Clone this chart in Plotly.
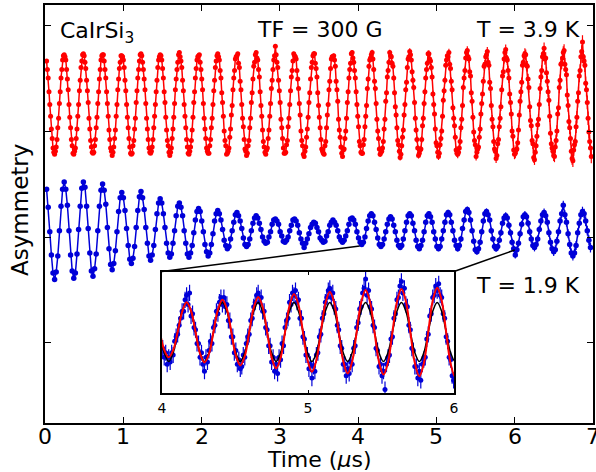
import plotly.graph_objects as go

# ---------------- data (asymmetry in units of 1e-3, vertically offset for display) -------------
PERIOD_US = 0.2452            # muon precession period read from the peaks
RED_DT = PERIOD_US / 24       # bin width of the 3.9 K data
BLUE_DT = PERIOD_US / 12      # bin width of the 1.9 K data
RED_FIRST_BIN = 2
BLUE_FIRST_BIN = 1
INSET_FIRST_BIN = 392         # inset uses the fine binning
FIT_DT = PERIOD_US / 8
FIT_FIRST_BIN = 128

X_TICKS = [0, 1, 2, 3, 4, 5, 6, 7]
Y_TICKS = [-200, -100, 0, 100]
INSET_X_TICKS = [4, 5, 6]

# T = 3.9 K (red), one row per precession cycle
RED_CYCLES = [
    [66, 58, 50, 37, 25, 14, 2, -7, -16, -20, -22, -19, -15, -8, 3, 12, 26, 37, 50, 58, 67, 71],
    [72, 70, 67, 58, 49, 39, 25, 13, 3, -8, -14, -21, -22, -19, -16, -7, 2, 14, 25, 38, 48, 60, 66, 72],
    [73, 71, 65, 59, 48, 38, 27, 12, 2, -9, -15, -20, -21, -20, -14, -8, 3, 13, 26, 37, 49, 58, 67, 71],
    [72, 72, 66, 58, 50, 37, 26, 14, 1, -8, -16, -19, -23, -20, -15, -7, 1, 14, 25, 39, 49, 59, 65, 71],
    [71, 70, 67, 60, 48, 38, 25, 13, 3, -7, -15, -21, -22, -21, -14, -9, 2, 12, 27, 38, 50, 58, 66, 72],
    [73, 71, 65, 58, 49, 39, 26, 12, 2, -8, -16, -20, -21, -19, -15, -8, 3, 14, 25, 37, 48, 60, 67, 70],
    [72, 71, 67, 59, 50, 37, 27, 13, 1, -9, -14, -20, -23, -20, -16, -7, 2, 13, 26, 39, 49, 58, 65, 72],
    [74, 70, 66, 60, 48, 38, 25, 14, 3, -8, -15, -21, -22, -19, -15, -9, 1, 13, 27, 37, 50, 59, 67, 70],
    [71, 72, 65, 58, 49, 39, 26, 12, 2, -7, -16, -19, -21, -21, -14, -8, 3, 12, 25, 38, 48, 60, 66, 71],
    [73, 70, 67, 57, 50, 36, 27, 14, 0, -9, -14, -22, -21, -19, -16, -6, 2, 15, 24, 39, 50, 57, 68, 70],
    [71, 73, 64, 60, 47, 39, 25, 12, 4, -8, -17, -19, -23, -21, -14, -9, 3, 12, 27, 36, 49, 61, 65, 72],
    [74, 69, 67, 58, 51, 37, 24, 14, 1, -10, -15, -20, -22, -18, -16, -7, 1, 14, 26, 40, 48, 58, 67, 71],
    [80, 72, 65, 60, 48, 38, 27, 11, 3, -7, -16, -21, -21, -20, -13, -9, 4, 12, 25, 38, 51, 57, 66, 73],
    [71, 70, 68, 57, 49, 40, 26, 15, 0, -9, -14, -22, -24, -19, -15, -6, 2, 13, 27, 36, 49, 60, 65, 71],
    [73, 73, 64, 59, 51, 36, 24, 13, 3, -8, -17, -19, -21, -22, -14, -10, 3, 15, 25, 39, 47, 59, 68, 70],
    [70, 71, 67, 61, 47, 39, 28, 11, 1, -6, -15, -21, -24, -18, -17, -7, 0, 12, 27, 37, 50, 58, 64, 73],
    [74, 69, 65, 57, 50, 37, 25, 14, 4, -10, -14, -20, -21, -21, -13, -8, 4, 14, 24, 40, 49, 61, 67, 69],
    [72, 74, 68, 58, 47, 40, 26, 11, 0, -7, -17, -22, -20, -19, -16, -10, 2, 11, 28, 36, 51, 57, 65, 74],
    [71, 70, 64, 61, 50, 36, 23, 15, 3, -9, -13, -19, -25, -22, -14, -6, 1, 15, 25, 39, 46, 60, 68, 70],
    [75, 72, 67, 56, 48, 41, 27, 12, 1, -8, -16, -23, -21, -18, -17, -8, 5, 12, 26, 37, 50, 58, 64, 73],
    [73, 68, 66, 60, 51, 35, 25, 16, 2, -11, -14, -20, -24, -21, -13, -7, 0, 14, 29, 38, 48, 62, 67, 71],
    [70, 74, 63, 59, 47, 39, 22, 12, 5, -6, -18, -21, -22, -20, -16, -10, 3, 11, 24, 41, 50, 57, 69, 74],
    [76, 70, 68, 56, 52, 36, 28, 13, -1, -9, -13, -24, -20, -17, -15, -6, 2, 16, 26, 35, 47, 61, 63, 70],
    [72, 75, 65, 62, 46, 40, 24, 11, 4, -10, -17, -19, -26, -23, -12, -8, 4, 12, 23, 39, 52, 56, 68, 74],
    [77, 69, 67, 57, 50, 35, 27, 16, 0, -5, -18, -22, -21, -18, -17, -11, 1, 15, 28, 37, 46, 62, 65, 71],
    [73, 72, 62, 61, 49, 41, 23, 10, 5, -9, -12, -25, -27, -20, -14, -5, 6, 11, 25, 40, 51, 57, 70, 73],
    [78, 68, 69, 55, 47, 37, 29, 14, -2, -12, -16, -19, -23, -24, -15, -9, 0, 16, 22, 41, 48, 63, 64, 69],
    [74, 76, 63, 58, 53, 34, 24, 9, 3, -7, -19, -26, -28, -18, -13, -10, 4, 13, 28, 36, 52, 57, 70, 75],
    [84, 70, 66, 62, 45, 39, 27, 12, -1, -10, -16, -24],
]
RED_ERR_PER_CYCLE = [0.8, 0.8, 0.9, 0.9, 1.0, 1.0, 1.1, 1.2, 1.3, 1.4, 1.5, 1.6, 1.7, 1.9, 2.0,
                     2.2, 2.4, 2.6, 2.8, 3.0, 3.3, 3.6, 3.9, 4.2, 4.6, 5.0, 5.4, 5.9, 6.4]

# T = 1.9 K (blue)
BLUE_CYCLES = [
    [-55, -72, -95, -117, -134, -140, -133, -118, -94, -71, -55],
    [-48, -55, -70, -94, -117, -132, -139, -134, -116, -93, -71, -54],
    [-48, -53, -71, -92, -115, -132, -137, -130, -116, -94, -71, -56],
    [-50, -56, -69, -91, -111, -126, -131, -125, -113, -95, -76, -63],
    [-58, -63, -75, -92, -108, -121, -125, -120, -109, -91, -75, -62],
    [-57, -63, -74, -91, -106, -118, -122, -117, -108, -93, -78, -68],
    [-64, -68, -78, -91, -106, -115, -119, -116, -106, -94, -80, -71],
    [-68, -72, -80, -94, -106, -116, -119, -115, -108, -96, -84, -76],
    [-73, -76, -85, -95, -107, -114, -118, -115, -107, -97, -85, -78],
    [-75, -78, -84, -93, -103, -108, -111, -109, -102, -94, -86, -79],
    [-77, -80, -85, -92, -101, -107, -109, -107, -102, -94, -87, -82],
    [-80, -82, -87, -93, -100, -104, -106, -105, -100, -95, -88, -84],
    [-83, -85, -88, -95, -99, -104, -105, -103, -100, -94, -89, -84],
    [-83, -85, -89, -96, -102, -106, -110, -106, -102, -97, -91, -88],
    [-86, -87, -91, -95, -101, -103, -105, -104, -99, -95, -89, -86],
    [-84, -86, -89, -94, -100, -103, -105, -103, -99, -94, -88, -83],
    [-82, -84, -88, -95, -101, -105, -107, -105, -100, -92, -85, -80],
    [-78, -80, -86, -93, -101, -107, -109, -107, -102, -95, -88, -83],
    [-81, -83, -89, -95, -103, -108, -110, -108, -102, -94, -86, -80],
    [-78, -80, -87, -94, -103, -109, -111, -108, -103, -95, -86, -80],
    [-78, -81, -86, -95, -102, -109, -111, -109, -102, -94, -86, -79],
    [-77, -79, -86, -94, -103, -108, -111, -108, -102, -92, -84, -76],
    [-74, -77, -84, -94, -104, -112, -114, -111, -105, -95, -85, -78],
    [-76, -79, -84, -94, -102, -109, -111, -109, -103, -96, -87, -82],
    [-80, -82, -89, -96, -105, -111, -117, -112, -106, -97, -88, -81],
    [-79, -81, -87, -95, -102, -108, -110, -107, -102, -93, -85, -79],
    [-77, -80, -86, -96, -105, -111, -114, -112, -104, -95, -85, -78],
    [-70, -79, -86, -97, -107, -115, -118, -115, -108, -96, -87, -79],
    [-76, -78, -85, -94, -103, -110],
]
BLUE_ERR_PER_CYCLE = [0.6, 0.6, 0.7, 0.7, 0.7, 0.8, 0.8, 0.9, 0.9, 1.0, 1.1, 1.2, 1.3, 1.4, 1.5,
                      1.6, 1.7, 1.9, 2.0, 2.2, 2.4, 2.6, 2.8, 3.0, 3.3, 3.6, 3.9, 4.2, 4.6]

# inset: 1.9 K data, 4-6 us, fine binning
INSET_CYCLES = [
    [-102, -106, -104, -109, -106, -108, -104, -105, -99, -97, -96, -92, -89, -86, -86, -81],
    [-79, -83, -78, -88, -87, -93, -94, -100, -100, -106, -104, -109, -112, -106, -108, -103, -99, -100, -93, -92, -86, -87, -82, -80],
    [-83, -80, -84, -83, -90, -90, -97, -97, -104, -103, -109, -107, -111, -110, -105, -106, -100, -97, -96, -90, -89, -84, -82, -79],
    [-78, -82, -80, -86, -86, -93, -94, -101, -101, -108, -106, -112, -109, -113, -106, -107, -100, -101, -93, -90, -89, -82, -83, -78],
    [-79, -77, -82, -81, -89, -89, -97, -98, -105, -105, -111, -109, -115, -110, -112, -105, -104, -97, -96, -89, -87, -82, -80, -77],
    [-76, -80, -78, -84, -85, -92, -94, -101, -102, -109, -109, -114, -111, -113, -108, -109, -102, -101, -93, -91, -85, -84, -78, -76],
    [-72, -79, -77, -84, -85, -92, -93, -102, -103, -110, -109, -114, -112, -120, -109, -106, -105, -98, -97, -89, -87, -81, -80, -75],
    [-73, -78, -76, -83, -84, -92, -94, -102, -103, -110, -110, -115, -112, -116, -109, -107, -106, -98, -96, -88, -87, -80, -79, -75],
    [-77, -74, -79, -80, -87, -89, -97, -99, -106, -107, -114, -116],
]
INSET_ERR = 3.5

# inset fits (one row per cycle, 8 samples per cycle)
FIT_ONE_FREQ = [
    [-82.2, -86.0, -95.0, -104.0, -107.8, -104.0, -95.0, -86.0],
    [-82.2, -86.0, -95.0, -104.0, -107.8, -104.0, -95.0, -86.0],
    [-82.2, -86.0, -95.0, -104.0, -107.8, -104.0, -95.0, -86.0],
    [-82.2, -86.0, -95.0, -104.0, -107.8, -104.0, -95.0, -86.0],
    [-82.2, -86.0, -95.0, -104.0, -107.8, -104.0, -95.0, -86.0],
    [-82.2, -86.0, -95.0, -104.0, -107.8, -104.0, -95.0, -86.0],
    [-82.2, -86.0, -95.0, -104.0, -107.8, -104.0, -95.0, -86.0],
    [-82.2, -86.0, -95.0, -104.0, -107.8, -104.0, -95.0, -86.0],
    [-82.2, -86.0, -95.0, -104.0, -107.8, -104.0, -95.0, -86.0],
    [-82.2],
]
FIT_TWO_FREQ = [
    [-84.5, -87.5, -95.0, -102.7, -106.0, -102.9, -95.0, -86.3],
    [-82.0, -85.8, -95.0, -104.3, -108.2, -104.5, -95.0, -85.3],
    [-81.0, -85.0, -95.0, -105.1, -109.5, -105.5, -95.0, -84.5],
    [-79.8, -84.1, -95.0, -106.0, -110.8, -106.3, -95.0, -83.6],
    [-78.5, -83.2, -95.0, -106.9, -112.2, -107.3, -95.0, -82.8],
    [-77.5, -82.5, -95.0, -107.6, -113.0, -107.8, -95.0, -82.2],
    [-76.7, -82.0, -95.0, -108.0, -113.5, -108.2, -95.0, -81.9],
    [-76.3, -81.6, -95.0, -108.4, -114.2, -108.7, -95.0, -81.4],
    [-75.7, -81.3, -95.0, -108.7, -114.5, -108.8, -95.0, -81.2],
    [-75.4],
]

# points on the 1.9 K curve that the inset connectors point at (time, asymmetry)
CONNECT_TARGETS = [(4.02, -108.5), (6.0, -112.3)]

# ---------------- build ----------------
def flatten(rows):
    out = []
    for r in rows:
        out.extend(r)
    return out

for r in RED_CYCLES[1:-1]:
    assert len(r) == 24, len(r)
for r in BLUE_CYCLES[1:-1]:
    assert len(r) == 12, len(r)
for r in INSET_CYCLES[1:-1]:
    assert len(r) == 24, len(r)

red_y = flatten(RED_CYCLES)
red_bins = [RED_FIRST_BIN + i for i in range(len(red_y))]
red_t = [b * RED_DT for b in red_bins]
red_e = [RED_ERR_PER_CYCLE[b // 24] for b in red_bins]

blue_y = flatten(BLUE_CYCLES)
blue_bins = [BLUE_FIRST_BIN + i for i in range(len(blue_y))]
blue_t = [b * BLUE_DT for b in blue_bins]
blue_e = [BLUE_ERR_PER_CYCLE[b // 12] for b in blue_bins]

inset_y = flatten(INSET_CYCLES)
inset_t = [(INSET_FIRST_BIN + i) * RED_DT for i in range(len(inset_y))]

fit1_y = flatten(FIT_ONE_FREQ)
fit2_y = flatten(FIT_TWO_FREQ)
fit_t = [(FIT_FIRST_BIN + i) * FIT_DT for i in range(len(fit1_y))]

RED = "#ff0000"
BLUE = "#0000d8"
FONT = "DejaVu Sans"

W, H = 596, 472
M_L, M_R, M_T, M_B = 45, 3, 5, 49
X_RANGE = [0, 7]
Y_RANGE = [-275.5, 118.9]
INSET_X_RANGE = [4, 6]
INSET_Y_RANGE = [-121.7, -68.7]
INSET_DOM_X = [0.2135, 0.7464]
INSET_DOM_Y = [0.0706, 0.3624]

fig = go.Figure()
fig.add_trace(go.Scatter(
    x=red_t, y=red_y, mode="lines+markers",
    line=dict(color=RED, width=1.5), marker=dict(color=RED, size=5),
    error_y=dict(type="data", array=red_e, color=RED, thickness=1.2, width=0),
    xaxis="x", yaxis="y"))
fig.add_trace(go.Scatter(
    x=blue_t, y=blue_y, mode="lines+markers",
    line=dict(color=BLUE, width=1.5), marker=dict(color=BLUE, size=5.5),
    error_y=dict(type="data", array=blue_e, color=BLUE, thickness=1.2, width=0),
    xaxis="x", yaxis="y"))

# inset
fig.add_trace(go.Scatter(
    x=inset_t, y=inset_y, mode="markers",
    marker=dict(color=BLUE, size=5),
    error_y=dict(type="constant", value=INSET_ERR, color=BLUE, thickness=1.2, width=0),
    xaxis="x2", yaxis="y2"))
fig.add_trace(go.Scatter(
    x=fit_t, y=fit1_y, mode="lines", line=dict(color="black", width=1.5, shape="spline"),
    xaxis="x2", yaxis="y2"))
fig.add_trace(go.Scatter(
    x=fit_t, y=fit2_y, mode="lines", line=dict(color=RED, width=2, shape="spline"),
    xaxis="x2", yaxis="y2"))

# connectors from inset top corners to the curve
def paper_to_data(px, py):
    return (X_RANGE[0] + px * (X_RANGE[1] - X_RANGE[0]),
            Y_RANGE[0] + py * (Y_RANGE[1] - Y_RANGE[0]))

corners = [paper_to_data(INSET_DOM_X[0], INSET_DOM_Y[1]),
           paper_to_data(INSET_DOM_X[1], INSET_DOM_Y[1])]
shapes = []
for (cx, cy), (tx, ty) in zip(corners, CONNECT_TARGETS):
    shapes.append(dict(type="line", xref="x", yref="y", x0=cx, y0=cy, x1=tx, y1=ty,
                       line=dict(color="black", width=1.5)))

axis_common = dict(showline=True, linecolor="black", linewidth=1.5, mirror="ticks",
                   ticks="inside", tickcolor="black", tickwidth=1, showgrid=False,
                   zeroline=False, automargin=False)

PLOT_W = W - M_L - M_R
PLOT_H = H - M_T - M_B

def px_to_paper(px, py):
    return ((px - M_L) / PLOT_W, (H - M_B - py) / PLOT_H)

ax_x, ax_y = px_to_paper(319, 459)
ay_x, ay_y = px_to_paper(20, 210)
_, tick_label_y = px_to_paper(0, 436)

annotations = [
    dict(text="Time (<i>μ</i>s)", xref="paper", yref="paper", x=ax_x, y=ax_y,
         xanchor="center", yanchor="middle", showarrow=False, font=dict(size=22),
         height=22),
    dict(text="Asymmetry", xref="paper", yref="paper", x=ay_x, y=ay_y, textangle=-90,
         xanchor="center", yanchor="middle", showarrow=False, font=dict(size=23)),
    dict(text="CaIrSi<sub>3</sub>", xref="paper", yref="paper", x=0.0237, y=0.935,
         xanchor="left", yanchor="middle", showarrow=False, font=dict(size=22)),
    dict(text="TF = 300 G", xref="paper", yref="paper", x=0.5018, y=0.9414,
         xanchor="center", yanchor="middle", showarrow=False, font=dict(size=22)),
    dict(text="T = 3.9 K", xref="paper", yref="paper", x=0.98, y=0.9414,
         xanchor="right", yanchor="middle", showarrow=False, font=dict(size=22)),
    dict(text="T = 1.9 K", xref="paper", yref="paper", x=0.98, y=0.330,
         xanchor="right", yanchor="middle", showarrow=False, font=dict(size=22)),
]
# main x tick labels, placed on the x data axis
for v in X_TICKS:
    annotations.append(dict(text=str(v), xref="x", yref="paper", x=v, y=tick_label_y,
                            xanchor="center", yanchor="middle", showarrow=False,
                            font=dict(size=22), height=18))

fig.update_layout(
    width=W, height=H, autosize=False,
    margin=dict(l=M_L, r=M_R, t=M_T, b=M_B, pad=0),
    paper_bgcolor="white", plot_bgcolor="white",
    showlegend=False,
    font=dict(family=FONT, size=22, color="black"),
    xaxis=dict(range=X_RANGE, tickvals=X_TICKS, ticklen=6, showticklabels=False,
               **axis_common),
    yaxis=dict(range=Y_RANGE, tickvals=Y_TICKS, ticklen=6, showticklabels=False,
               **axis_common),
    xaxis2=dict(domain=INSET_DOM_X, anchor="y2", range=INSET_X_RANGE,
                tickvals=INSET_X_TICKS, ticklen=4, tickfont=dict(size=14),
                ticklabelstandoff=1, **axis_common),
    yaxis2=dict(domain=INSET_DOM_Y, anchor="x2", range=INSET_Y_RANGE,
                showticklabels=False, tickvals=[], **axis_common),
    shapes=shapes,
    annotations=annotations,
)

fig.write_html("out.html", config={"displayModeBar": False},
               post_script="document.body.style.margin='0';document.body.style.padding='0';"
                           "document.documentElement.style.overflow='hidden';")
